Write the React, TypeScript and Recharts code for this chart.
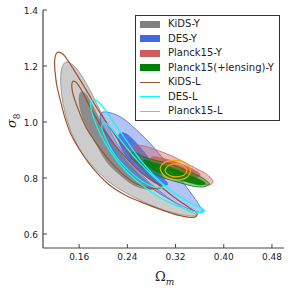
import { LineChart, Line, XAxis, YAxis } from "recharts";

type Pt = [number, number];

const xTicks = [0.16, 0.24, 0.32, 0.4, 0.48];
const yTicks = [0.6, 0.8, 1.0, 1.2, 1.4];

// contour outlines (Omega_m, sigma_8)
const kidsY95: Pt[] = [
  [0.1389, 1.2143], [0.1528, 1.1976], [0.1667, 1.156], [0.1806, 1.1024], [0.1944, 1.0429],
  [0.2083, 0.9833], [0.2222, 0.9238], [0.2444, 0.8643], [0.2722, 0.7929], [0.3056, 0.7333],
  [0.3333, 0.6917], [0.3539, 0.6702], [0.35, 0.6643], [0.3278, 0.6702], [0.3, 0.6857],
  [0.2667, 0.7155], [0.2389, 0.7452], [0.2111, 0.7833], [0.1861, 0.8345], [0.1667, 0.8821],
  [0.1528, 0.9357], [0.1417, 0.9952], [0.1333, 1.0667], [0.1294, 1.1381], [0.1311, 1.1917],
];
const kidsY68: Pt[] = [
  [0.1639, 1.1083], [0.1722, 1.0964], [0.1833, 1.0548], [0.1972, 0.9952], [0.2139, 0.9357],
  [0.2333, 0.8762], [0.2556, 0.8226], [0.275, 0.781], [0.2833, 0.7631], [0.2722, 0.7595],
  [0.25, 0.775], [0.2278, 0.8107], [0.2056, 0.8583], [0.1861, 0.9298], [0.1694, 0.9952],
  [0.1611, 1.0548], [0.16, 1.0905],
];
const desY95: Pt[] = [
  [0.1972, 1.0333], [0.2111, 1.0333], [0.2278, 1.019], [0.2444, 0.9929], [0.2611, 0.9595],
  [0.2778, 0.9238], [0.2944, 0.8821], [0.3139, 0.8345], [0.3333, 0.781], [0.35, 0.7333],
  [0.3611, 0.6976], [0.3656, 0.6821], [0.3583, 0.6774], [0.3417, 0.6893], [0.3167, 0.7155],
  [0.2889, 0.7512], [0.2611, 0.7929], [0.2333, 0.8405], [0.2167, 0.9], [0.2028, 0.9595],
  [0.1956, 1.0012],
];
const desY68: Pt[] = [
  [0.2278, 0.9595], [0.2389, 0.9571], [0.2528, 0.9298], [0.2694, 0.8881], [0.2861, 0.8405],
  [0.3, 0.7988], [0.3072, 0.7786], [0.2989, 0.7738], [0.2833, 0.7869], [0.2639, 0.8167],
  [0.2444, 0.8583], [0.2306, 0.906], [0.225, 0.9381],
];
const planckY95: Pt[] = [
  [0.2417, 0.906], [0.2528, 0.9179], [0.2722, 0.9119], [0.2917, 0.8976], [0.3139, 0.8786],
  [0.3361, 0.8548], [0.3556, 0.8321], [0.3694, 0.8167], [0.3789, 0.7988], [0.3822, 0.7845],
  [0.375, 0.775], [0.3611, 0.7786], [0.3389, 0.7893], [0.3167, 0.8048], [0.2944, 0.8262],
  [0.2722, 0.8524], [0.2528, 0.8786], [0.2433, 0.894],
];
const planckY68: Pt[] = [
  [0.2833, 0.8762], [0.3056, 0.8667], [0.3306, 0.8488], [0.3528, 0.8262], [0.3611, 0.8107],
  [0.3528, 0.8024], [0.3306, 0.8107], [0.3056, 0.831], [0.2861, 0.8524], [0.2789, 0.8667],
];
const lensY95: Pt[] = [
  [0.2444, 0.8905], [0.2556, 0.8881], [0.2694, 0.8738], [0.2889, 0.8619], [0.3083, 0.8524],
  [0.3278, 0.8369], [0.3472, 0.819], [0.3639, 0.8012], [0.375, 0.7833], [0.375, 0.775],
  [0.3639, 0.7679], [0.3472, 0.7714], [0.3306, 0.781], [0.3111, 0.7929], [0.2917, 0.8071],
  [0.2722, 0.8286], [0.2556, 0.8524], [0.2456, 0.8738],
];
const lensY68: Pt[] = [
  [0.2694, 0.8643], [0.2861, 0.8524], [0.3028, 0.844], [0.3222, 0.8286], [0.3417, 0.8107],
  [0.3611, 0.7929], [0.3694, 0.781], [0.3611, 0.775], [0.3472, 0.781], [0.3278, 0.7929],
  [0.3083, 0.8048], [0.2889, 0.8226], [0.275, 0.8405], [0.2678, 0.8548],
];
const kidsL95: Pt[] = [
  [0.1233, 1.2476], [0.1333, 1.2417], [0.1444, 1.2095], [0.1583, 1.1619], [0.175, 1.1024],
  [0.1917, 1.0429], [0.2139, 0.9714], [0.2333, 0.9119], [0.2611, 0.8405], [0.2889, 0.781],
  [0.3167, 0.7333], [0.3417, 0.6952], [0.3556, 0.6738], [0.35, 0.6595], [0.3278, 0.6655],
  [0.2944, 0.6881], [0.2611, 0.7155], [0.2361, 0.7393], [0.2083, 0.7786], [0.1806, 0.8405],
  [0.1611, 0.9], [0.1456, 0.9595], [0.1367, 1.0131], [0.1294, 1.0726], [0.1233, 1.1262],
  [0.12, 1.1798], [0.1194, 1.2214],
];
const kidsL68: Pt[] = [
  [0.1489, 1.144], [0.1567, 1.1381], [0.1667, 1.1024], [0.1806, 1.0429], [0.1972, 0.9833],
  [0.2167, 0.9238], [0.2389, 0.8702], [0.2611, 0.8226], [0.2833, 0.7869], [0.2972, 0.7714],
  [0.2889, 0.7619], [0.2667, 0.769], [0.2444, 0.7929], [0.2194, 0.8405], [0.1944, 0.906],
  [0.1722, 0.9774], [0.1567, 1.0548], [0.1489, 1.1083],
];
const desL95: Pt[] = [
  [0.1822, 1.0786], [0.1917, 1.0726], [0.2056, 1.0369], [0.2222, 0.9833], [0.2417, 0.9238],
  [0.2639, 0.8583], [0.2861, 0.8048], [0.3111, 0.7571], [0.3361, 0.7214], [0.3583, 0.6976],
  [0.3678, 0.6833], [0.3611, 0.6762], [0.3444, 0.6833], [0.3194, 0.7036], [0.2917, 0.7333],
  [0.2639, 0.775], [0.2361, 0.8286], [0.2139, 0.8881], [0.1944, 0.9595], [0.1833, 1.019],
  [0.1789, 1.0607],
];
const desL68: Pt[] = [
  [0.2, 0.9952], [0.2083, 0.9893], [0.2222, 0.9536], [0.2417, 0.9], [0.2611, 0.8524],
  [0.2806, 0.8107], [0.2944, 0.7833], [0.3, 0.7714], [0.2917, 0.7643], [0.275, 0.775],
  [0.2528, 0.8071], [0.2306, 0.8524], [0.2139, 0.9], [0.2028, 0.9476], [0.1978, 0.9774],
];
const planckL95: Pt[] = [
  [0.2944, 0.8345], [0.3, 0.8524], [0.3111, 0.8619], [0.325, 0.8619], [0.3378, 0.8524],
  [0.3444, 0.8345], [0.3433, 0.8143], [0.3361, 0.7988], [0.3222, 0.7929], [0.3083, 0.7988],
  [0.2989, 0.8143],
];
const planckL68: Pt[] = [
  [0.3028, 0.8274], [0.3072, 0.8429], [0.3167, 0.85], [0.3278, 0.8488], [0.3361, 0.8381],
  [0.3389, 0.825], [0.3344, 0.8107], [0.325, 0.8048], [0.3139, 0.806], [0.3056, 0.8155],
];

const contours = [
  { id: "kidsY95", pts: kidsY95, fill: "#808080", op: 0.4, stroke: "#8c8c8c", sw: 0.8 },
  { id: "kidsY68", pts: kidsY68, fill: "#808080", op: 0.85, stroke: "#808080", sw: 0.6 },
  { id: "desY95", pts: desY95, fill: "#4169e1", op: 0.4, stroke: "#4169e1", sw: 0.8 },
  { id: "desY68", pts: desY68, fill: "#4169e1", op: 0.85, stroke: "#4169e1", sw: 0.6 },
  { id: "planckY95", pts: planckY95, fill: "#cd5c5c", op: 0.4, stroke: "#cd5c5c", sw: 0.8 },
  { id: "planckY68", pts: planckY68, fill: "#cd5c5c", op: 0.85, stroke: "#cd5c5c", sw: 0.6 },
  { id: "lensY95", pts: lensY95, fill: "#008000", op: 0.4, stroke: "#008000", sw: 0.8 },
  { id: "lensY68", pts: lensY68, fill: "#008000", op: 0.9, stroke: "#008000", sw: 0.6 },
  { id: "kidsL95", pts: kidsL95, fill: "none", op: 0, stroke: "#a0522d", sw: 1.2 },
  { id: "kidsL68", pts: kidsL68, fill: "none", op: 0, stroke: "#a0522d", sw: 1.2 },
  { id: "desL95", pts: desL95, fill: "none", op: 0, stroke: "#00ffff", sw: 1.2 },
  { id: "desL68", pts: desL68, fill: "none", op: 0, stroke: "#00ffff", sw: 1.2 },
  { id: "planckL95", pts: planckL95, fill: "none", op: 0, stroke: "#ffa500", sw: 1.2 },
  { id: "planckL68", pts: planckL68, fill: "none", op: 0, stroke: "#ffa500", sw: 1.2 },
];

const legendItems = [
  { label: "KiDS-Y", color: "#808080", patch: true },
  { label: "DES-Y", color: "#4169e1", patch: true },
  { label: "Planck15-Y", color: "#cd5c5c", patch: true },
  { label: "Planck15(+lensing)-Y", color: "#008000", patch: true },
  { label: "KiDS-L", color: "#a0522d", patch: false },
  { label: "DES-L", color: "#00ffff", patch: false },
  { label: "Planck15-L", color: "#ffa500", patch: false },
];

// closed catmull-rom curve, passed to Line as a d3 curve factory
function closedCurve(context: any) {
  let pts: number[][] = [];
  return {
    areaStart() {},
    areaEnd() {},
    lineStart() {
      pts = [];
    },
    point(x: number, y: number) {
      pts.push([x, y]);
    },
    lineEnd() {
      const n = pts.length;
      if (!n) return;
      context.moveTo(pts[0][0], pts[0][1]);
      for (let i = 0; i < n; i++) {
        const p0 = pts[(i - 1 + n) % n];
        const p1 = pts[i];
        const p2 = pts[(i + 1) % n];
        const p3 = pts[(i + 2) % n];
        context.bezierCurveTo(
          p1[0] + (p2[0] - p0[0]) / 6,
          p1[1] + (p2[1] - p0[1]) / 6,
          p2[0] - (p3[0] - p1[0]) / 6,
          p2[1] - (p3[1] - p1[1]) / 6,
          p2[0],
          p2[1]
        );
      }
      context.closePath();
    },
  };
}

const AXIS = "#444";
const FONT = "'DejaVu Sans', sans-serif";

const BottomTick = ({ x, y, payload }: any) => (
  <g>
    <line x1={x} y1={y} x2={x} y2={y - 4} stroke={AXIS} />
    <text x={x} y={y + 12} textAnchor="middle" fontSize={9} fontFamily={FONT} fill="#222">
      {payload.value.toFixed(2)}
    </text>
  </g>
);
const TopTick = ({ x, y }: any) => <line x1={x} y1={y} x2={x} y2={y + 4} stroke={AXIS} />;
const LeftTick = ({ x, y, payload }: any) => (
  <g>
    <line x1={x} y1={y} x2={x + 4} y2={y} stroke={AXIS} />
    <text x={x - 5} y={y + 3.5} textAnchor="end" fontSize={9} fontFamily={FONT} fill="#222">
      {payload.value.toFixed(1)}
    </text>
  </g>
);
const RightTick = ({ x, y }: any) => <line x1={x} y1={y} x2={x - 4} y2={y} stroke={AXIS} />;

const css =
  "body{margin:0}" +
  contours
    .filter((c) => c.fill !== "none")
    .map((c) => `.ct-${c.id} .recharts-curve{fill:${c.fill};fill-opacity:${c.op}}`)
    .join("");

export default function App() {
  return (
    <div style={{ position: "relative", width: 289, height: 289, background: "#fff" }}>
      <style>{css}</style>
      <LineChart width={289} height={289} margin={{ top: 10, right: 5, bottom: 0, left: 0 }}>
        <XAxis
          xAxisId="b"
          type="number"
          dataKey="x"
          domain={[0.1, 0.5]}
          ticks={xTicks}
          allowDataOverflow
          height={41}
          tickSize={0}
          tickMargin={0}
          tickLine={false}
          stroke={AXIS}
          strokeWidth={1.2}
          tick={<BottomTick />}
          interval={0}
        />
        <XAxis
          xAxisId="t"
          orientation="top"
          type="number"
          dataKey="x"
          domain={[0.1, 0.5]}
          ticks={xTicks}
          allowDataOverflow
          height={0}
          tickSize={0}
          tickMargin={0}
          tickLine={false}
          stroke={AXIS}
          strokeWidth={1.2}
          tick={<TopTick />}
          interval={0}
        />
        <YAxis
          yAxisId="l"
          type="number"
          dataKey="y"
          domain={[0.55, 1.4]}
          ticks={yTicks}
          allowDataOverflow
          width={43}
          tickSize={0}
          tickMargin={0}
          tickLine={false}
          stroke={AXIS}
          strokeWidth={1.2}
          tick={<LeftTick />}
          interval={0}
        />
        <YAxis
          yAxisId="r"
          orientation="right"
          type="number"
          dataKey="y"
          domain={[0.55, 1.4]}
          ticks={yTicks}
          allowDataOverflow
          width={0}
          tickSize={0}
          tickMargin={0}
          tickLine={false}
          stroke={AXIS}
          strokeWidth={1.2}
          tick={<RightTick />}
          interval={0}
        />
        {contours.map((c) => (
          <Line
            key={c.id}
            className={`ct-${c.id}`}
            xAxisId="b"
            yAxisId="l"
            data={c.pts.map(([x, y]) => ({ x, y }))}
            dataKey="y"
            type={closedCurve as any}
            stroke={c.stroke}
            strokeWidth={c.sw}
            dot={false}
            activeDot={false}
            legendType="none"
            isAnimationActive={false}
          />
        ))}
      </LineChart>

      <div
        style={{
          position: "absolute",
          left: 135,
          top: 15,
          width: 143,
          height: 104,
          border: "1px solid #333",
          background: "#fff",
          fontFamily: FONT,
          fontSize: 10,
          color: "#222",
        }}
      >
        {legendItems.map((it, i) => (
          <div
            key={it.label}
            style={{ position: "absolute", left: 0, top: 1 + i * 14.5, height: 14, width: 143 }}
          >
            {it.patch ? (
              <div
                style={{ position: "absolute", left: 4, top: 3.5, width: 20, height: 7, background: it.color }}
              />
            ) : (
              <div
                style={{ position: "absolute", left: 4, top: 6.5, width: 20, height: 1, background: it.color }}
              />
            )}
            <span style={{ position: "absolute", left: 32, top: 1, whiteSpace: "nowrap" }}>{it.label}</span>
          </div>
        ))}
      </div>

      <div
        style={{
          position: "absolute",
          left: 155,
          top: 269,
          fontFamily: "'DejaVu Serif', serif",
          fontSize: 13,
          color: "#222",
          whiteSpace: "nowrap",
        }}
      >
        Ω<sub style={{ fontStyle: "italic", fontSize: 9 }}>m</sub>
      </div>
      <div
        style={{
          position: "absolute",
          left: -2,
          top: 112,
          width: 30,
          textAlign: "center",
          transform: "rotate(-90deg)",
          fontFamily: "'DejaVu Serif', serif",
          fontSize: 13,
          color: "#222",
          whiteSpace: "nowrap",
        }}
      >
        <i>σ</i>
        <sub style={{ fontSize: 9 }}>8</sub>
      </div>
    </div>
  );
}
